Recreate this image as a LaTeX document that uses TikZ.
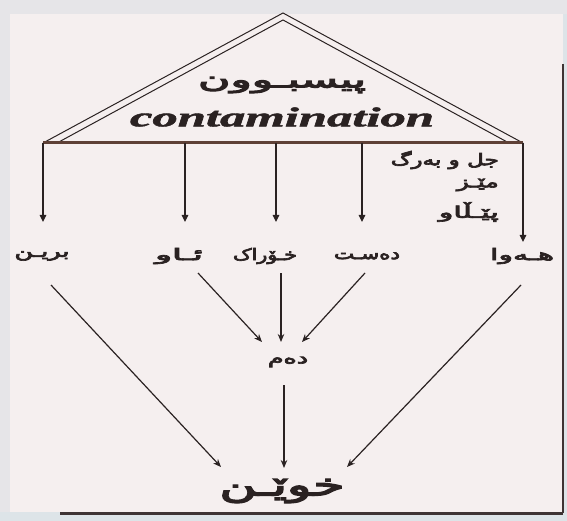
\documentclass[tikz,border=0pt]{standalone}
\usepackage{fontspec}
\usepackage{graphicx}
\usetikzlibrary{arrows.meta}
\TeXXeTstate=1
\newfontfamily\kufont[Script=Arabic,FakeBold=4]{DejaVu Sans}
\newfontfamily\contfont{Liberation Serif}[FakeBold=1.5]
\newlength\kwl
% \kw{target width}{font size}{text}
\newcommand\kw[3]{\settowidth\kwl{\kufont\fontsize{#2}{#2}\selectfont #3}%
  \scalebox{\fpeval{#1pt/\kwl}}[1]{\kufont\fontsize{#2}{#2}\selectfont #3}}
\definecolor{ink}{HTML}{2A2222}
\definecolor{basec}{HTML}{5E4036}
\definecolor{pagec}{HTML}{F5EFEF}
\definecolor{outc}{HTML}{DDE4E8}
\definecolor{bandc}{HTML}{E6E5E8}
\definecolor{shadc}{HTML}{3E3434}
\begin{document}
\begin{tikzpicture}[x=1pt,y=-1pt,
  lbl/.style={inner sep=0pt, text=ink},
  tri/.style={draw=ink, line width=1pt, line join=miter},
  toparr/.style={draw=ink, line width=1.2pt, -{Triangle[length=7pt,width=6.5pt]}},
  arr/.style={draw=ink, line width=1.2pt, -{Stealth[length=8pt,width=6.5pt]}}]
\useasboundingbox (0,0) rectangle (567,521);
% background
\fill[outc] (0,0) rectangle (567,521);
\fill[pagec] (10,14) rectangle (563,512);
\fill[bandc] (10,0) rectangle (567,14);
\fill[bandc] (0,0) rectangle (10,512);
\draw[shadc, line width=2.5pt] (563,64) -- (563,513);
\draw[shadc, line width=3pt] (60,513.5) -- (563,513.5);
% triangle
\draw[tri] (43,143) -- (283,13) -- (523,143);
\draw[tri] (57,143) -- (283,20) -- (509,143);
\draw[basec, line width=3pt] (43,143) -- (523,143);
\coordinate (b1) at (43,143);
\coordinate (b2) at (185,143);
\coordinate (b3) at (276,143);
\coordinate (b4) at (362,143);
\coordinate (b5) at (523,143);
% texts
\node[lbl] (pis) at (282,85) {\kw{168}{23}{\beginR پیسبـوون\endR}};
\node[lbl] (cont) at (282,117) {\resizebox{304pt}{19pt}{\contfont\bfseries\itshape contamination}};
\node[lbl, anchor=east] (jl) at (499,160) {\kw{108}{16}{\beginR جل و بەرگ\endR}};
\node[lbl, anchor=east] (miz) at (499,185) {\kw{42}{16}{\beginR مێـز\endR}};
\node[lbl, anchor=east] (pel) at (499,212) {\kw{60}{16}{\beginR پێـڵاو\endR}};
\node[lbl] (brin) at (42,256) {\kw{55}{16}{\beginR بریـن\endR}};
\node[lbl] (aw) at (179,256) {\kw{48}{16}{\beginR ئـاو\endR}};
\node[lbl] (xor) at (265,256) {\kw{64}{16}{\beginR خـۆراک\endR}};
\node[lbl] (dest) at (367,256) {\kw{66}{16}{\beginR دەسـت\endR}};
\node[lbl] (hewa) at (522,256) {\kw{64}{16}{\beginR هـەوا\endR}};
\node[lbl] (dem) at (288,362) {\kw{40}{16}{\beginR دەم\endR}};
\node[lbl] (xwen) at (282,491) {\kw{125}{31}{\beginR خوێـن\endR}};
% arrows from base
\draw[toparr] (b1) -- (43,222);
\draw[toparr] (b2) -- (185,222);
\draw[toparr] (b3) -- (276,222);
\draw[toparr] (b4) -- (362,222);
\draw[toparr] (b5) -- (523,242);
% to mouth
\coordinate (a1) at (198,273);
\coordinate (a2) at (281,273);
\coordinate (a3) at (365,273);
\coordinate (m1) at (262,342);
\coordinate (m2) at (281,342);
\coordinate (m3) at (302,342);
\draw[arr] (a1) -- (m1);
\draw[arr] (a2) -- (m2);
\draw[arr] (a3) -- (m3);
% to blood
\coordinate (c1) at (51,285);
\coordinate (c2) at (284,385);
\coordinate (c3) at (521,285);
\coordinate (d1) at (221,467);
\coordinate (d2) at (284,468);
\coordinate (d3) at (347,467);
\draw[arr] (c1) -- (d1);
\draw[arr] (c2) -- (d2);
\draw[arr] (c3) -- (d3);
\end{tikzpicture}
\end{document}
